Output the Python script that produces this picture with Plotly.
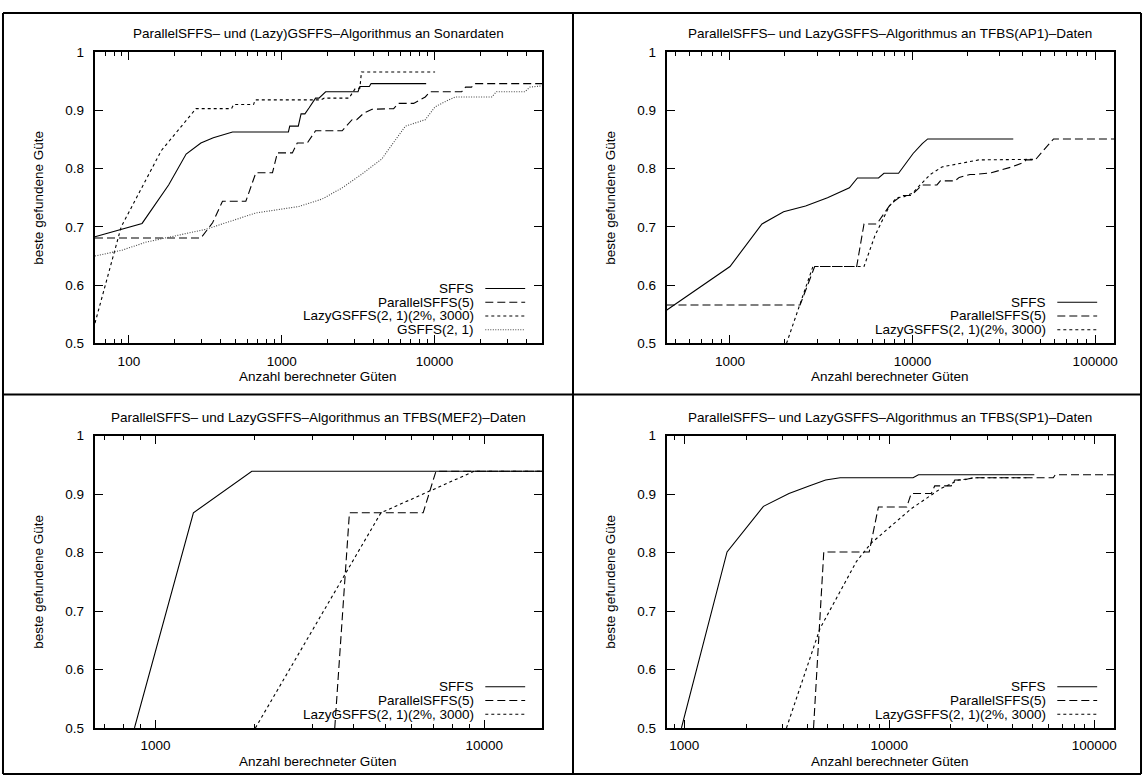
import plotly.graph_objects as go
import math

W, H = 1148, 784

# ---------------- data ----------------
# Panel 1: Sonardaten
p1_sffs_x = [60, 122, 182, 237, 296, 357, 477, 1107, 1130, 1285, 1340, 1420, 1510, 1600, 1667, 1754, 1941, 3162, 3250, 3750, 3850, 8830]
p1_sffs_y = [0.683, 0.706, 0.772, 0.825, 0.844, 0.853, 0.863, 0.863, 0.873, 0.873, 0.894, 0.894, 0.904, 0.915, 0.921, 0.921, 0.932, 0.932, 0.941, 0.941, 0.946, 0.946]
p1_par_x = [60, 296, 353, 410, 583, 678, 871, 938, 1175, 1265, 1472, 1667, 2490, 2890, 3100, 3440, 3910, 5410, 5830, 7310, 8710, 9390, 15100, 16000, 17500, 18500, 50700]
p1_par_y = [0.681, 0.681, 0.707, 0.744, 0.744, 0.793, 0.793, 0.827, 0.827, 0.844, 0.844, 0.865, 0.865, 0.884, 0.884, 0.895, 0.902, 0.903, 0.912, 0.912, 0.923, 0.932, 0.932, 0.940, 0.940, 0.946, 0.946]
p1_lazy_x = [60, 89, 163, 275, 470, 485, 655, 670, 1800, 1900, 2760, 3040, 3250, 3330, 10100]
p1_lazy_y = [0.535, 0.700, 0.831, 0.903, 0.903, 0.910, 0.910, 0.918, 0.918, 0.921, 0.921, 0.938, 0.938, 0.966, 0.966]
p1_gs_x = [60, 90, 130, 320, 678, 1297, 1845, 2490, 3366, 4540, 5010, 6460, 8710, 10100, 11750, 13670, 23700, 25500, 39100, 42200, 50700]
p1_gs_y = [0.650, 0.660, 0.674, 0.696, 0.724, 0.735, 0.748, 0.767, 0.791, 0.817, 0.833, 0.873, 0.884, 0.906, 0.915, 0.923, 0.923, 0.932, 0.932, 0.940, 0.942]

# Panel 2: TFBS(AP1)
p2_sffs_x = [449, 1000, 1497, 1966, 2594, 3420, 4510, 4990, 6510, 6970, 8380, 9190, 10070, 11300, 12100, 35600]
p2_sffs_y = [0.557, 0.632, 0.705, 0.726, 0.736, 0.750, 0.767, 0.784, 0.784, 0.792, 0.792, 0.809, 0.826, 0.843, 0.851, 0.851]
p2_par_x = [449, 2420, 2910, 4940, 5420, 6370, 7460, 8000, 8770, 9840, 11290, 13600, 14200, 17100, 18000, 20600, 22000, 27000, 35000, 40000, 42000, 47000, 54000, 59200, 127000]
p2_par_y = [0.566, 0.566, 0.632, 0.632, 0.705, 0.705, 0.736, 0.745, 0.754, 0.754, 0.772, 0.772, 0.779, 0.779, 0.785, 0.790, 0.790, 0.793, 0.803, 0.810, 0.815, 0.815, 0.837, 0.851, 0.851]
p2_lazy_x = [2040, 2846, 5420, 6220, 7470, 8180, 9000, 10000, 11000, 12500, 14500, 17500, 23000, 47000]
p2_lazy_y = [0.500, 0.632, 0.632, 0.685, 0.736, 0.750, 0.752, 0.758, 0.772, 0.790, 0.803, 0.808, 0.815, 0.816]

# Panel 3: TFBS(MEF2)
p3_sffs_x = [863, 1304, 1963, 15000]
p3_sffs_y = [0.500, 0.868, 0.939, 0.939]
p3_par_x = [3510, 3890, 6520, 7130, 15000]
p3_par_y = [0.500, 0.868, 0.868, 0.939, 0.939]
p3_lazy_x = [2013, 4850, 9310, 15000]
p3_lazy_y = [0.500, 0.868, 0.939, 0.939]

# Panel 4: TFBS(SP1)
p4_sffs_x = [968, 1616, 2432, 3240, 4060, 4890, 5760, 13060, 13880, 51000]
p4_sffs_y = [0.500, 0.801, 0.879, 0.901, 0.914, 0.924, 0.928, 0.928, 0.933, 0.933]
p4_par_x = [4270, 4790, 7980, 8850, 12170, 12790, 16030, 16660, 20050, 20880, 23000, 25600, 63100, 64500, 124700]
p4_par_y = [0.500, 0.801, 0.801, 0.878, 0.878, 0.901, 0.901, 0.914, 0.914, 0.924, 0.924, 0.928, 0.928, 0.933, 0.933]
p4_lazy_x = [3150, 4590, 6920, 8150, 12800, 17750, 21800, 26700, 48000]
p4_lazy_y = [0.500, 0.670, 0.785, 0.816, 0.875, 0.909, 0.924, 0.928, 0.928]

titles = [
    "ParallelSFFS– und (Lazy)GSFFS–Algorithmus an Sonardaten",
    "ParallelSFFS– und LazyGSFFS–Algorithmus an TFBS(AP1)–Daten",
    "ParallelSFFS– und LazyGSFFS–Algorithmus an TFBS(MEF2)–Daten",
    "ParallelSFFS– und LazyGSFFS–Algorithmus an TFBS(SP1)–Daten",
]
x_ranges = [(59.7, 50700), (450, 127000), (653, 15000), (820, 125000)]
x_ticks = [[100, 1000, 10000], [1000, 10000, 100000], [1000, 10000], [1000, 10000, 100000]]
y_ticks = [0.5, 0.6, 0.7, 0.8, 0.9, 1.0]
y_ticktext = ["0.5", "0.6", "0.7", "0.8", "0.9", "1"]
x_title = "Anzahl berechneter Güten"
y_title = "beste gefundene Güte"

series_names = ["SFFS", "ParallelSFFS(5)", "LazyGSFFS(2, 1)(2%, 3000)", "GSFFS(2, 1)"]
styles = [
    dict(color="black", width=1.1, dash="solid"),
    dict(color="black", width=1.1, dash="8px,4px"),
    dict(color="black", width=1.1, dash="3px,3px"),
    dict(color="#444444", width=1.1, dash="1px,1.5px"),
]

panel_series = [
    [(p1_sffs_x, p1_sffs_y), (p1_par_x, p1_par_y), (p1_lazy_x, p1_lazy_y), (p1_gs_x, p1_gs_y)],
    [(p2_sffs_x, p2_sffs_y), (p2_par_x, p2_par_y), (p2_lazy_x, p2_lazy_y)],
    [(p3_sffs_x, p3_sffs_y), (p3_par_x, p3_par_y), (p3_lazy_x, p3_lazy_y)],
    [(p4_sffs_x, p4_sffs_y), (p4_par_x, p4_par_y), (p4_lazy_x, p4_lazy_y)],
]

# ---------------- layout geometry (pixels) ----------------
col_px = [(95, 544), (669, 1118)]
row_px = [(46, 343), (437, 735)]
FONT = "Liberation Sans, Arial, Helvetica, sans-serif"
FS = 13.5


def fx(px):
    return px / W


def fy(py):
    return 1 - py / H


fig = go.Figure()
annotations = []
shapes = []
layout_axes = {}

for i in range(4):
    r, c = divmod(i, 2)
    x0, x1 = col_px[c]
    y0, y1 = row_px[r]
    xa = "x" if i == 0 else f"x{i+1}"
    ya = "y" if i == 0 else f"y{i+1}"
    xkey = "xaxis" if i == 0 else f"xaxis{i+1}"
    ykey = "yaxis" if i == 0 else f"yaxis{i+1}"

    lo, hi = x_ranges[i]
    minor_vals = []
    for d in range(int(math.floor(math.log10(lo))), int(math.ceil(math.log10(hi))) + 1):
        for k in range(2, 10):
            v = k * 10 ** d
            if lo < v < hi:
                minor_vals.append(v)

    layout_axes[xkey] = dict(
        type="log", domain=[fx(x0), fx(x1)], anchor=ya,
        range=[math.log10(lo), math.log10(hi)],
        tickmode="array", tickvals=x_ticks[i], ticktext=[str(v) for v in x_ticks[i]],
        ticks="inside", ticklen=8, tickwidth=1, tickcolor="black",
        minor=dict(ticks="inside", ticklen=4, tickwidth=1, tickcolor="black",
                   tickmode="array", tickvals=minor_vals, showgrid=False),
        showline=True, linewidth=2, linecolor="black", mirror="ticks",
        showgrid=False, zeroline=False,
        tickfont=dict(family=FONT, size=FS, color="black"),
        ticklabelstandoff=4,
    )
    layout_axes[ykey] = dict(
        domain=[fy(y1), fy(y0)], anchor=xa, range=[0.5, 1.0],
        tickmode="array", tickvals=y_ticks, ticktext=y_ticktext,
        ticks="inside", ticklen=8, tickwidth=1, tickcolor="black",
        showline=True, linewidth=2, linecolor="black", mirror="ticks",
        showgrid=False, zeroline=False,
        tickfont=dict(family=FONT, size=FS, color="black"),
        ticklabelstandoff=6,
    )

    for j, (xs, ys) in enumerate(panel_series[i]):
        fig.add_trace(go.Scatter(
            x=xs, y=ys, mode="lines", name=series_names[j],
            line=styles[j], xaxis=xa, yaxis=ya, showlegend=False,
        ))

    cx = (x0 + x1) / 2
    annotations.append(dict(text=titles[i], x=fx(cx), y=fy(y0 - 19), xref="paper", yref="paper",
                            showarrow=False, xanchor="center", yanchor="middle",
                            font=dict(family=FONT, size=FS, color="black")))
    annotations.append(dict(text=x_title, x=fx(cx), y=fy(y1 + 34), xref="paper", yref="paper",
                            showarrow=False, xanchor="center", yanchor="middle",
                            font=dict(family=FONT, size=FS, color="black")))
    annotations.append(dict(text=y_title, x=fx(x0 - 56), y=fy((y0 + y1) / 2), xref="paper", yref="paper",
                            showarrow=False, xanchor="center", yanchor="middle", textangle=-90,
                            font=dict(family=FONT, size=FS, color="black")))

    # legend (gnuplot style: text right-aligned, sample line to the right)
    n = len(panel_series[i])
    for j in range(n):
        ly = y1 - 14 - 14 * (n - 1 - j)
        annotations.append(dict(text=series_names[j], x=fx(x1 - 66), y=fy(ly), xref="paper", yref="paper",
                                showarrow=False, xanchor="right", yanchor="middle",
                                font=dict(family=FONT, size=FS, color="black")))
        shapes.append(dict(type="line", xref="paper", yref="paper",
                           x0=fx(x1 - 57), x1=fx(x1 - 17), y0=fy(ly), y1=fy(ly),
                           line=dict(color=styles[j]["color"], width=styles[j]["width"], dash=styles[j]["dash"])))

# panel frames
frame_x = [3, 575, 1145]
frame_y = [6, 395, 782]
for xv in frame_x:
    shapes.append(dict(type="line", xref="paper", yref="paper", x0=fx(xv), x1=fx(xv),
                       y0=fy(frame_y[0]), y1=fy(frame_y[-1]), line=dict(color="black", width=2)))
for yv in frame_y:
    shapes.append(dict(type="line", xref="paper", yref="paper", x0=fx(frame_x[0]), x1=fx(frame_x[-1]),
                       y0=fy(yv), y1=fy(yv), line=dict(color="black", width=2)))

fig.update_layout(
    width=W, height=H, margin=dict(l=0, r=0, t=0, b=0),
    paper_bgcolor="white", plot_bgcolor="white",
    showlegend=False, annotations=annotations, shapes=shapes,
    font=dict(family=FONT, size=FS, color="black"),
    **layout_axes,
)

fig.write_html("out.html")
